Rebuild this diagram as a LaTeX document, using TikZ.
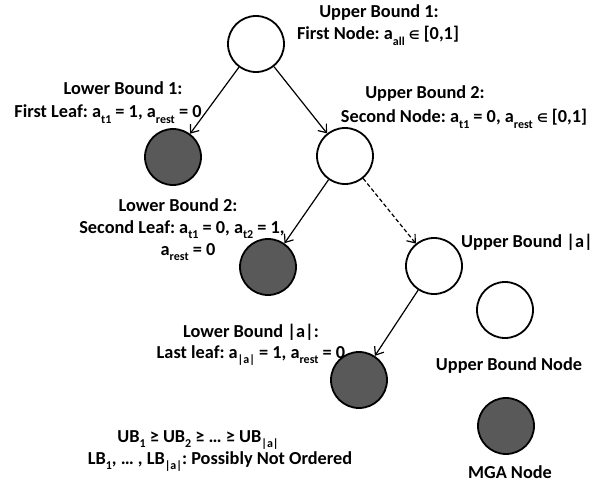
\documentclass[tikz,border=0pt]{standalone}
\usepackage{fontspec}
\setmainfont{Carlito}
\newfontfamily\symfont{DejaVu Sans Bold}
\usetikzlibrary{arrows.meta}
\definecolor{mgafill}{RGB}{89,89,89}
\frenchspacing
% lowered small text for indices
\newcommand{\idx}[1]{\raisebox{-0.32em}{\fontsize{12}{12}\selectfont #1}}
\newcommand{\elem}{{\symfont\fontsize{12}{12}\selectfont ∈}}
\begin{document}
\begin{tikzpicture}[x=1pt,y=-1pt,
  bnode/.style={circle,draw,line width=1.8pt,minimum size=56pt,inner sep=0pt},
  ubnode/.style={bnode,fill=white},
  mganode/.style={bnode,fill=mgafill},
  lbl/.style={anchor=base,inner sep=0pt,font=\fontsize{18.3}{21}\selectfont\bfseries},
  edge/.style={line width=1.2pt,-{Straight Barb[length=7pt,width=11pt,line width=1.2pt]}},
  font=\bfseries]
\useasboundingbox (0,0) rectangle (597,484);

% tree nodes
\node[ubnode]  (root)  at (256,44)  {};
\node[mganode] (leafA) at (173,157) {};
\node[ubnode]  (ubB)   at (345,156) {};
\node[mganode] (leafB) at (268,267) {};
\node[ubnode]  (ubN)   at (434,266) {};
\node[mganode] (leafN) at (359,380) {};

% legend
\node[ubnode]  (legUB)  at (505,310) {};
\node[mganode] (legMGA) at (506,426) {};

% connectors
\draw[edge] (root) -- (leafA);
\draw[edge] (root) -- (ubB);
\draw[edge] (ubB) -- (leafB);
\draw[edge,dashed,dash pattern=on 4pt off 2.5pt] (ubB) -- (ubN);
\draw[edge] (ubN) -- (leafN);

% labels
\node[lbl] (t1) at (379,18) {Upper Bound 1:};
\node[lbl] (t2) at (378,40) {First Node: a\idx{all} \elem\ [0,1]};
\node[lbl] (t3) at (123,95) {Lower Bound 1:};
\node[lbl] (t4) at (108,118) {First Leaf: a\idx{t1} = 1, a\idx{rest} = 0};
\node[lbl] (t5) at (425,99) {Upper Bound 2:};
\node[lbl] (t6) at (464,123) {Second Node: a\idx{t1} = 0, a\idx{rest} \elem\ [0,1]};
\node[lbl] (t7) at (178,211) {Lower Bound 2:};
\node[lbl] (t8) at (182,233) {Second Leaf: a\idx{t1} = 0, a\idx{t2} = 1,};
\node[lbl] (t9) at (188,255) {a\idx{rest} = 0};
\node[lbl] (t10) at (527,247) {Upper Bound |a|};
\node[lbl] (t11) at (251,337) {Lower Bound |a|:};
\node[lbl] (t12) at (251,358) {Last leaf: a\idx{|a|} = 1, a\idx{rest} = 0};
\node[lbl] (t13) at (198,442) {UB\idx{1} ≥ UB\idx{2} ≥ … ≥ UB\idx{|a|}};
\node[lbl] (t14) at (220,464) {LB\idx{1}, … , LB\idx{|a|}: Possibly Not Ordered};
\node[lbl] (t15) at (509,370) {Upper Bound Node};
\node[lbl] (t16) at (510,478) {MGA Node};
\end{tikzpicture}
\end{document}
